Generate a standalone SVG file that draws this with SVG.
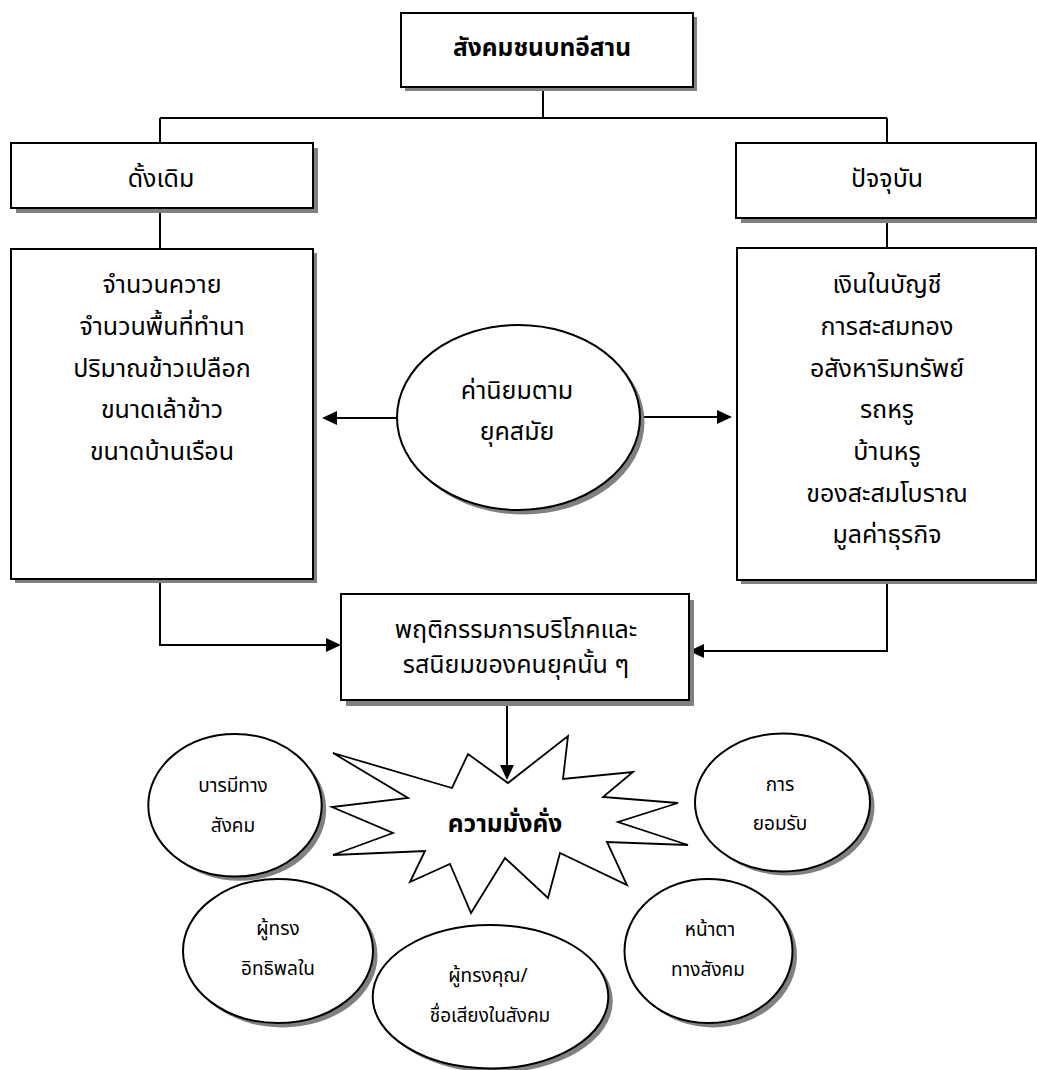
<svg xmlns="http://www.w3.org/2000/svg" width="1037" height="1070" viewBox="0 0 1037 1070">
<style>
.box{fill:#fff;stroke:#000;stroke-width:2}
.sh{fill:#808080;stroke:none}
.ell{fill:#fff;stroke:#000;stroke-width:2}
.con{fill:none;stroke:#000;stroke-width:2}
text{font-family:"Noto Sans Thai","Noto Sans Thai Looped","Noto Sans","DejaVu Sans",sans-serif;fill:#000;text-anchor:middle}
.t{font-size:25px}
.b{font-size:24.5px;font-weight:bold}
.s{font-size:19px}
</style>
<defs>
<marker id="arr" markerUnits="userSpaceOnUse" markerWidth="16" markerHeight="16" refX="9" refY="7" orient="auto">
<path d="M0,0 L15,7 L0,14 z" fill="#000"/>
</marker>
</defs>
<g id="connectors" class="con">
<path d="M543,87 V118 M160,118 H887 M160,118 V143 M887,118 V143"/>
<path d="M160,208 V249 M887,218 V248"/>
<path d="M397,418 H328" marker-end="url(#arr)"/>
<path d="M640,417 H726" marker-end="url(#arr)"/>
<path d="M160,579 V645 H335" marker-end="url(#arr)"/>
<path d="M887,580 V651 H695" marker-end="url(#arr)"/>
<path d="M507,700 V774" marker-end="url(#arr)"/>
</g>
<g id="n-top">
<rect class="sh" x="405" y="17" width="292" height="74"/>
<rect class="box" x="401" y="13" width="292" height="74"/>
<text class="b" x="542" y="56">สังคมชนบทอีสาน</text>
</g>
<g id="n-old">
<rect class="sh" x="16" y="148" width="302" height="65"/>
<rect class="box" x="11" y="143" width="302" height="65"/>
<text class="t" x="161" y="187">ดั้งเดิม</text>
</g>
<g id="n-now">
<rect class="sh" x="741" y="148" width="300" height="75"/>
<rect class="box" x="736" y="143" width="300" height="75"/>
<text class="t" x="887" y="187">ปัจจุบัน</text>
</g>
<g id="n-old-list">
<rect class="sh" x="15" y="253" width="302" height="330"/>
<rect class="box" x="11" y="249" width="302" height="330"/>
<text class="t" x="162" y="293">จำนวนควาย</text>
<text class="t" x="162" y="335">จำนวนพื้นที่ทำนา</text>
<text class="t" x="162" y="377">ปริมาณข้าวเปลือก</text>
<text class="t" x="162" y="418">ขนาดเล้าข้าว</text>
<text class="t" x="162" y="460">ขนาดบ้านเรือน</text>
</g>
<g id="n-now-list">
<rect class="sh" x="741" y="252" width="299" height="332"/>
<rect class="box" x="737" y="248" width="299" height="332"/>
<text class="t" x="887" y="293">เงินในบัญชี</text>
<text class="t" x="887" y="335">การสะสมทอง</text>
<text class="t" x="887" y="377">อสังหาริมทรัพย์</text>
<text class="t" x="887" y="418">รถหรู</text>
<text class="t" x="887" y="460">บ้านหรู</text>
<text class="t" x="887" y="502">ของสะสมโบราณ</text>
<text class="t" x="887" y="543">มูลค่าธุรกิจ</text>
</g>
<g id="n-values">
<ellipse class="sh" cx="523" cy="422" rx="121.5" ry="92.5"/>
<ellipse class="ell" cx="518.5" cy="417.5" rx="121.5" ry="92.5"/>
<text class="t" x="517" y="399">ค่านิยมตาม</text>
<text class="t" x="517" y="440">ยุคสมัย</text>
</g>
<g id="n-behavior">
<rect class="sh" x="346" y="600" width="348" height="106"/>
<rect class="box" x="341" y="594" width="348" height="106"/>
<text class="t" x="516" y="638">พฤติกรรมการบริโภคและ</text>
<text class="t" x="516" y="673">รสนิยมของคนยุคนั้น ๆ</text>
</g>
<g id="n-wealth">
<polygon fill="#fff" stroke="#000" stroke-width="1.8" stroke-linejoin="miter" points="333,753 452,788 468,754 508,783 568,736 563,779 633,772 603,797 678,803 618,822 688,845 607,842 627,885 560,853 548,898 505,858 471,913 450,864 410,882 425,851 333,855 393,833 332,807 408,798"/>
<text class="b" x="505" y="832">ความมั่งคั่ง</text>
</g>
<g id="n-barami">
<ellipse class="sh" cx="239.5" cy="809.5" rx="86.7" ry="71.3"/>
<ellipse class="ell" cx="235" cy="805.3" rx="86.7" ry="71.3"/>
<text class="s" x="233" y="792">บารมีทาง</text>
<text class="s" x="233" y="832">สังคม</text>
</g>
<g id="n-accept">
<ellipse class="sh" cx="787" cy="806.5" rx="87.5" ry="69"/>
<ellipse class="ell" cx="782.5" cy="802.5" rx="87.5" ry="69"/>
<text class="s" x="780" y="791">การ</text>
<text class="s" x="780" y="830">ยอมรับ</text>
</g>
<g id="n-influence">
<ellipse class="sh" cx="282.5" cy="955.5" rx="95" ry="72"/>
<ellipse class="ell" cx="278" cy="951" rx="95" ry="72"/>
<text class="s" x="278" y="935">ผู้ทรง</text>
<text class="s" x="278" y="975">อิทธิพลใน</text>
</g>
<g id="n-fame">
<ellipse class="sh" cx="495" cy="1001" rx="117.8" ry="71.7"/>
<ellipse class="ell" cx="490.5" cy="996.7" rx="117.8" ry="71.7"/>
<text class="s" x="488" y="982">ผู้ทรงคุณ/</text>
<text class="s" x="490" y="1022">ชื่อเสียงในสังคม</text>
</g>
<g id="n-face">
<ellipse class="sh" cx="713" cy="955.5" rx="84" ry="72"/>
<ellipse class="ell" cx="708.5" cy="951" rx="84" ry="72"/>
<text class="s" x="710" y="936">หน้าตา</text>
<text class="s" x="708" y="976">ทางสังคม</text>
</g>
</svg>
